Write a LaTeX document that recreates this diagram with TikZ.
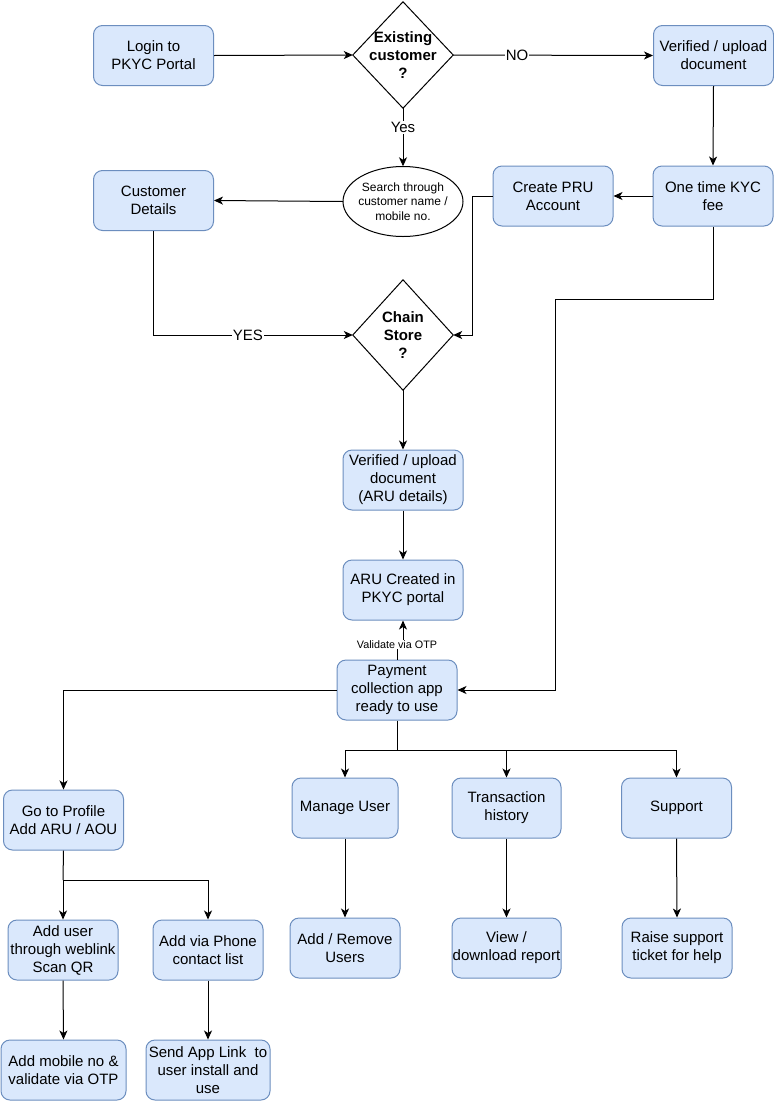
\documentclass[tikz,border=0pt]{standalone}
\usepackage{fontspec}
\setmainfont{Liberation Sans}
\usetikzlibrary{arrows.meta}
\definecolor{bfill}{HTML}{DAE8FC}
\definecolor{bdraw}{HTML}{6C8EBF}
\tikzset{
  box/.style={draw=bdraw, fill=bfill, rounded corners=9pt, line width=1pt, align=center,
    inner sep=0pt, font=\fontsize{15}{18}\selectfont, text=black,
    minimum width=120pt, minimum height=60pt},
  dia/.style={inner sep=0pt, align=center, font=\bfseries\fontsize{15}{18}\selectfont,
    minimum width=100pt},
  arr/.style={-{Stealth[length=9pt,width=8pt,inset=2.5pt]}, line width=1pt},
  ln/.style={line width=1pt},
  lbl/.style={fill=white, inner sep=1pt, font=\fontsize{15}{18}\selectfont},
  smlbl/.style={fill=white, inner sep=1pt, font=\fontsize{10.8}{13}\selectfont},
}
\begin{document}
\begin{tikzpicture}[x=1pt,y=-1pt]
\fill[white] (0,0) rectangle (774,1101);
\useasboundingbox (0,0) rectangle (774,1101);

% top row
\node[box] (login) at (153.5,55.5) {Login to\\PKYC Portal};
\node[dia, minimum height=106pt] (exist) at (403,55) {Existing\\customer\\?};
\draw[ln] (exist.north) -- (exist.east) -- (exist.south) -- (exist.west) -- cycle;
\node[box] (ver1) at (713.5,55.5) {Verified / upload\\document};

% second row
\node[inner sep=0pt, minimum width=120pt, minimum height=70pt, align=center,
  font=\fontsize{12}{14.7}\selectfont] (search) at (403,201.5) {Search through\\customer name /\\mobile no.};
\draw[ln] (search.center) ellipse [x radius=60pt, y radius=35pt];
\node[box] (cust) at (153.5,200.5) {Customer\\Details};
\node[box] (pru) at (553,196) {Create PRU\\Account};
\node[box] (kyc) at (713,196) {One time KYC\\fee};

% chain store
\node[dia, minimum height=110pt] (chain) at (403,335) {Chain\\Store\\?};
\draw[ln] (chain.north) -- (chain.east) -- (chain.south) -- (chain.west) -- cycle;

\node[box] (varu) at (403,480) {Verified / upload\\document\\(ARU details)};
\node[box] (aruc) at (403,590) {ARU Created in\\PKYC portal};
\node[box] (pay) at (397,690) {Payment\\collection app\\ready to use};

% lower left
\node[box] (prof) at (63.5,820) {Go to Profile\\Add ARU / AOU};
\node[box, minimum width=110pt] (au) at (63,950) {Add user\\through weblink\\Scan QR};
\node[box, minimum width=110pt] (ph) at (208,950) {Add via Phone\\contact list};
\node[box, minimum width=125pt] (am) at (63.5,1070) {Add mobile no \&\\validate via OTP};
\node[box, minimum width=124pt] (sa) at (208,1070) {Send App Link\ \ to\\user install and\\use};

% lower right
\node[box, minimum width=106pt] (mu) at (345,808) {Manage User};
\node[box, minimum width=109pt] (th) at (506.5,808) {Transaction\\history};
\node[box, minimum width=110pt] (sup) at (676.5,808) {Support};
\node[box, minimum width=110pt] (ar) at (345,948) {Add / Remove\\Users};
\node[box, minimum width=109pt] (vd) at (506.5,948) {View /\\download report};
\node[box, minimum width=110pt] (rs) at (677,948) {Raise support\\ticket for help};

% connectors
\draw[arr] (login.east) -- (exist.west);
\draw[arr] (exist.east) -- node[lbl, pos=0.32]{NO} (ver1.west);
\draw[arr] (exist.south) -- node[lbl, pos=0.33]{Yes} (search.north);
\draw[arr] (search.west) -- (cust.east);
\draw[arr] (ver1.south) -- (kyc.north);
\draw[arr] (kyc.west) -- (pru.east);
\draw[arr] (pru.west) -- ++(-20,0) |- (chain.east);
\draw[arr] (cust.south) |- node[lbl, pos=0.737]{YES} (chain.west);
\draw[arr] (chain.south) -- (varu.north);
\draw[arr] (varu.south) -- (aruc.north);
\draw[arr] (pay.north) -- ++(0,-15) node[smlbl]{Validate via OTP} -| (aruc.south);
\coordinate (kb) at (555,299);
\draw[arr] (kyc.south) |- (kb) |- (pay.east);
\draw[arr] (pay.west) -| (prof.north);
\coordinate (pb) at (397,750);
\draw[ln] (pay.south) -- (pb);
\draw[arr] (pb) -| (mu.north);
\draw[arr] (pb) -| (th.north);
\draw[arr] (pb) -| (sup.north);
\coordinate (gb) at (63,880);
\draw[ln] (prof.south) -- (gb);
\draw[arr] (gb) -- (au.north);
\draw[arr] (gb) -| (ph.north);
\draw[arr] (au.south) -- (am.north);
\draw[arr] (ph.south) -- (sa.north);
\draw[arr] (mu.south) -- (ar.north);
\draw[arr] (th.south) -- (vd.north);
\draw[arr] (sup.south) -- (rs.north);
\end{tikzpicture}
\end{document}
